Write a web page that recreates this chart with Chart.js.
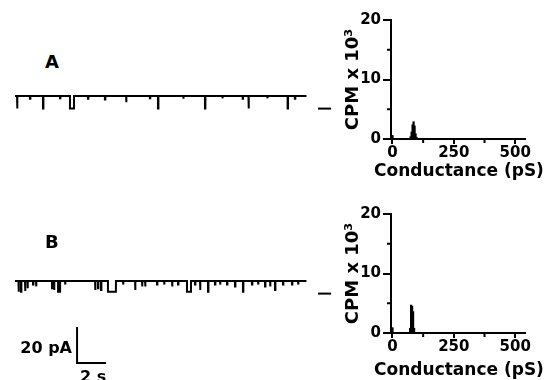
<!DOCTYPE html>
<html><head><meta charset="utf-8">
<script src="https://cdn.jsdelivr.net/npm/chart.js@4.4.1/dist/chart.umd.min.js"></script>
<style>
html,body{margin:0;padding:0;background:#fff;width:544px;height:380px;overflow:hidden;position:relative;}
canvas{position:absolute;}
.lbl{position:absolute;font-family:'DejaVu Sans',sans-serif;font-weight:bold;color:#000;white-space:nowrap;line-height:1;}
</style></head><body>
<canvas id="traceA"></canvas>
<canvas id="traceB"></canvas>
<canvas id="histA"></canvas>
<canvas id="histB"></canvas>
<div class="lbl" style="left:45px;top:53px;font-size:18px;">A</div>
<div class="lbl" style="left:45px;top:233px;font-size:18px;">B</div>
<div class="lbl" style="right:472px;top:340px;font-size:16px;">20 pA</div>
<div class="lbl" style="left:80px;top:369px;font-size:16px;">2 s</div>
<script>
// ---------- DATA ----------
const traceDuration = 20.1; // s

// Trace A events: start time (s), duration (s), amplitude (pA, downward)
const eventsA_time = [0.14, 1.03, 1.93, 3.10, 3.79, 5.03, 6.20, 7.66, 9.30, 9.86, 11.6, 13.1, 14.3, 15.7, 16.1, 17.4, 18.8, 19.3];
const eventsA_dur  = [0.03, 0.03, 0.03, 0.03, 0.28, 0.03, 0.03, 0.03, 0.03, 0.03, 0.03, 0.03, 0.03, 0.03, 0.03, 0.03, 0.03, 0.03];
const eventsA_amp  = [7.0, 1.5, 7.0, 1.2, 7.0, 1.5, 2.0, 3.5, 1.3, 7.0, 1.5, 7.0, 1.3, 1.5, 7.0, 1.3, 7.0, 1.5];

// Trace B events
const eventsB_time = [0.24, 0.41, 0.69, 0.86, 1.24, 1.45, 2.55, 2.69, 2.97, 3.45, 5.52, 5.72, 5.93, 6.41, 7.45, 8.28, 8.76, 8.97, 9.79, 10.28, 10.83, 11.24, 11.86, 12.41, 12.76, 13.31, 13.79, 14.14, 14.62, 15.17, 15.72, 16.34, 16.76, 17.24, 17.59, 17.93, 18.48, 19.10, 19.52];
const eventsB_dur  = [0.03, 0.03, 0.03, 0.03, 0.03, 0.03, 0.03, 0.03, 0.14, 0.03, 0.03, 0.03, 0.03, 0.55, 0.03, 0.03, 0.03, 0.03, 0.03, 0.03, 0.03, 0.03, 0.28, 0.03, 0.03, 0.03, 0.03, 0.03, 0.03, 0.03, 0.03, 0.03, 0.03, 0.03, 0.03, 0.03, 0.03, 0.03, 0.03];
const eventsB_amp  = [6.0, 6.0, 5.5, 4.0, 2.0, 3.0, 4.0, 5.0, 6.0, 2.0, 5.0, 4.0, 5.0, 6.0, 2.0, 5.0, 3.0, 3.0, 2.0, 2.0, 3.0, 2.0, 6.0, 2.0, 5.0, 6.0, 2.0, 2.0, 2.0, 3.0, 6.0, 2.0, 2.0, 3.0, 3.0, 5.0, 2.0, 2.0, 2.0];

// Open-level marker (pA) and scale bar
const levelMarker = -7;
const scaleBarPA = 20;   // pA
const scaleBarS = 2;     // s

// Histograms: conductance bins (pS) and counts (CPM x 10^3)
const histBinsA   = [0, 74, 78, 82, 86, 90, 94, 98];
const histCountsA = [0.6, 0.4, 1.2, 2.4, 2.9, 2.2, 0.9, 0.3];
const histBinsB   = [0, 72, 76, 80, 84, 88];
const histCountsB = [0.9, 0.8, 4.7, 4.5, 3.6, 0.8];

const xTickLabels = [0, 250, 500];
const xMinorTicks = [125, 375];
const yTickLabels = [0, 10, 20];
const yMinorTicks = [5, 15];
const xTitle = 'Conductance (pS)';
const yTitle = 'CPM x 10\u00B3';

// ---------- LAYOUT / STYLE ----------
const FONT = "'DejaVu Sans', sans-serif";
Chart.defaults.font.family = FONT;
Chart.defaults.color = '#000';
const PX_PER_S = 14.5, PX_PER_PA = 1.8;

function sized(id, left, top, w, h){
  const c = document.getElementById(id);
  c.width = w; c.height = h;
  c.style.left = left + 'px'; c.style.top = top + 'px';
  c.style.width = w + 'px'; c.style.height = h + 'px';
  return c;
}

function buildTrace(times, durs, amps){
  const pts = [{x:0, y:0}];
  for (let i = 0; i < times.length; i++){
    const t = times[i], d = durs[i], a = amps[i];
    pts.push({x:t, y:0}, {x:t, y:-a}, {x:t+d, y:-a}, {x:t+d, y:0});
  }
  pts.push({x:traceDuration, y:0});
  return pts;
}

function lineDs(data, w){
  return {data, borderColor:'#000', borderWidth:w, pointRadius:0, tension:0, fill:false, clip:false};
}

function makeTrace(id, left, top, w, h, baselinePx, datasets){
  const c = sized(id, left, top, w, h);
  const yMax = baselinePx / PX_PER_PA, yMin = yMax - h / PX_PER_PA;
  new Chart(c, {
    type:'line',
    data:{datasets},
    options:{
      responsive:false, animation:false, devicePixelRatio:1, events:[],
      layout:{padding:0},
      plugins:{legend:{display:false}, tooltip:{enabled:false}},
      scales:{
        x:{type:'linear', min:0, max:w / PX_PER_S, display:false},
        y:{type:'linear', min:yMin, max:yMax, display:false}
      }
    }
  });
}

const traceW = 320;
const markerT0 = 20.9, markerT1 = 21.8;
makeTrace('traceA', 15, 86, traceW, 30, 10, [
  lineDs(buildTrace(eventsA_time, eventsA_dur, eventsA_amp), 2),
  lineDs([{x:markerT0, y:levelMarker}, {x:markerT1, y:levelMarker}], 2)
]);

const sbT = 4.28, sbI = -45.6;
makeTrace('traceB', 15, 263, traceW, 112, 18, [
  lineDs(buildTrace(eventsB_time, eventsB_dur, eventsB_amp), 2),
  lineDs([{x:markerT0, y:levelMarker}, {x:markerT1, y:levelMarker}], 2),
  lineDs([{x:sbT, y:sbI + scaleBarPA}, {x:sbT, y:sbI}, {x:sbT + scaleBarS, y:sbI}], 2)
]);

// minor ticks + x-axis title (drawn without the scale-width squeeze)
const axisExtras = {
  id:'axisExtras',
  afterDraw(chart, args, opts){
    const ctx = chart.ctx, xs = chart.scales.x, ys = chart.scales.y, a = chart.chartArea;
    ctx.save();
    ctx.strokeStyle = '#000'; ctx.lineWidth = 2;
    ctx.beginPath();
    xMinorTicks.forEach(v => { const p = xs.getPixelForValue(v); ctx.moveTo(p, a.bottom); ctx.lineTo(p, a.bottom + 4); });
    yMinorTicks.forEach(v => { const p = ys.getPixelForValue(v); ctx.moveTo(a.left - 4, p); ctx.lineTo(a.left, p); });
    ctx.stroke();
    ctx.fillStyle = '#000';
    ctx.font = 'bold 17px ' + FONT;
    ctx.textAlign = 'center'; ctx.textBaseline = 'alphabetic';
    ctx.fillText(xTitle, (a.left + a.right) / 2 + 1, opts.titleBaseline);
    ctx.restore();
  }
};

function makeHist(id, left, top, w, h, bins, counts, xAxisH, titleBaseline){
  const c = sized(id, left, top, w, h);
  new Chart(c, {
    type:'bar',
    data:{datasets:[{
      data: bins.map((b, i) => ({x:b, y:counts[i]})),
      backgroundColor:'#000', borderWidth:0, barThickness:1.6
    }]},
    options:{
      responsive:false, animation:false, devicePixelRatio:1, events:[],
      layout:{padding:{left:0, top:20, right:19, bottom:0}},
      plugins:{legend:{display:false}, tooltip:{enabled:false}, axisExtras:{titleBaseline}},
      scales:{
        x:{
          type:'linear', min:-6, max:540, offset:false,
          afterBuildTicks: s => { s.ticks = xTickLabels.map(v => ({value:v})); },
          afterFit: s => { s.height = xAxisH; },
          ticks:{font:{size:15, weight:'bold'}, padding:0, maxRotation:0},
          grid:{display:true, offset:false, drawOnChartArea:false, drawTicks:true, tickLength:5, color:'#000', lineWidth:2},
          border:{display:true, color:'#000', width:2},
          title:{display:false}
        },
        y:{
          type:'linear', min:0, max:20,
          afterBuildTicks: s => { s.ticks = yTickLabels.map(v => ({value:v})); },
          afterFit: s => { s.width = 55; },
          ticks:{font:{size:15, weight:'bold'}, padding:2},
          grid:{display:true, drawOnChartArea:false, drawTicks:true, tickLength:8, color:'#000', lineWidth:2},
          border:{display:true, color:'#000', width:2},
          title:{display:true, text:yTitle, font:{size:18, weight:'bold'}, padding:{top:7, bottom:0}}
        }
      }
    },
    plugins:[axisExtras]
  });
}

makeHist('histA', 336, 0, 208, 190, histBinsA, histCountsA, 51, 176);
makeHist('histB', 336, 194, 208, 186, histBinsB, histCountsB, 47, 181);
</script>
</body></html>
